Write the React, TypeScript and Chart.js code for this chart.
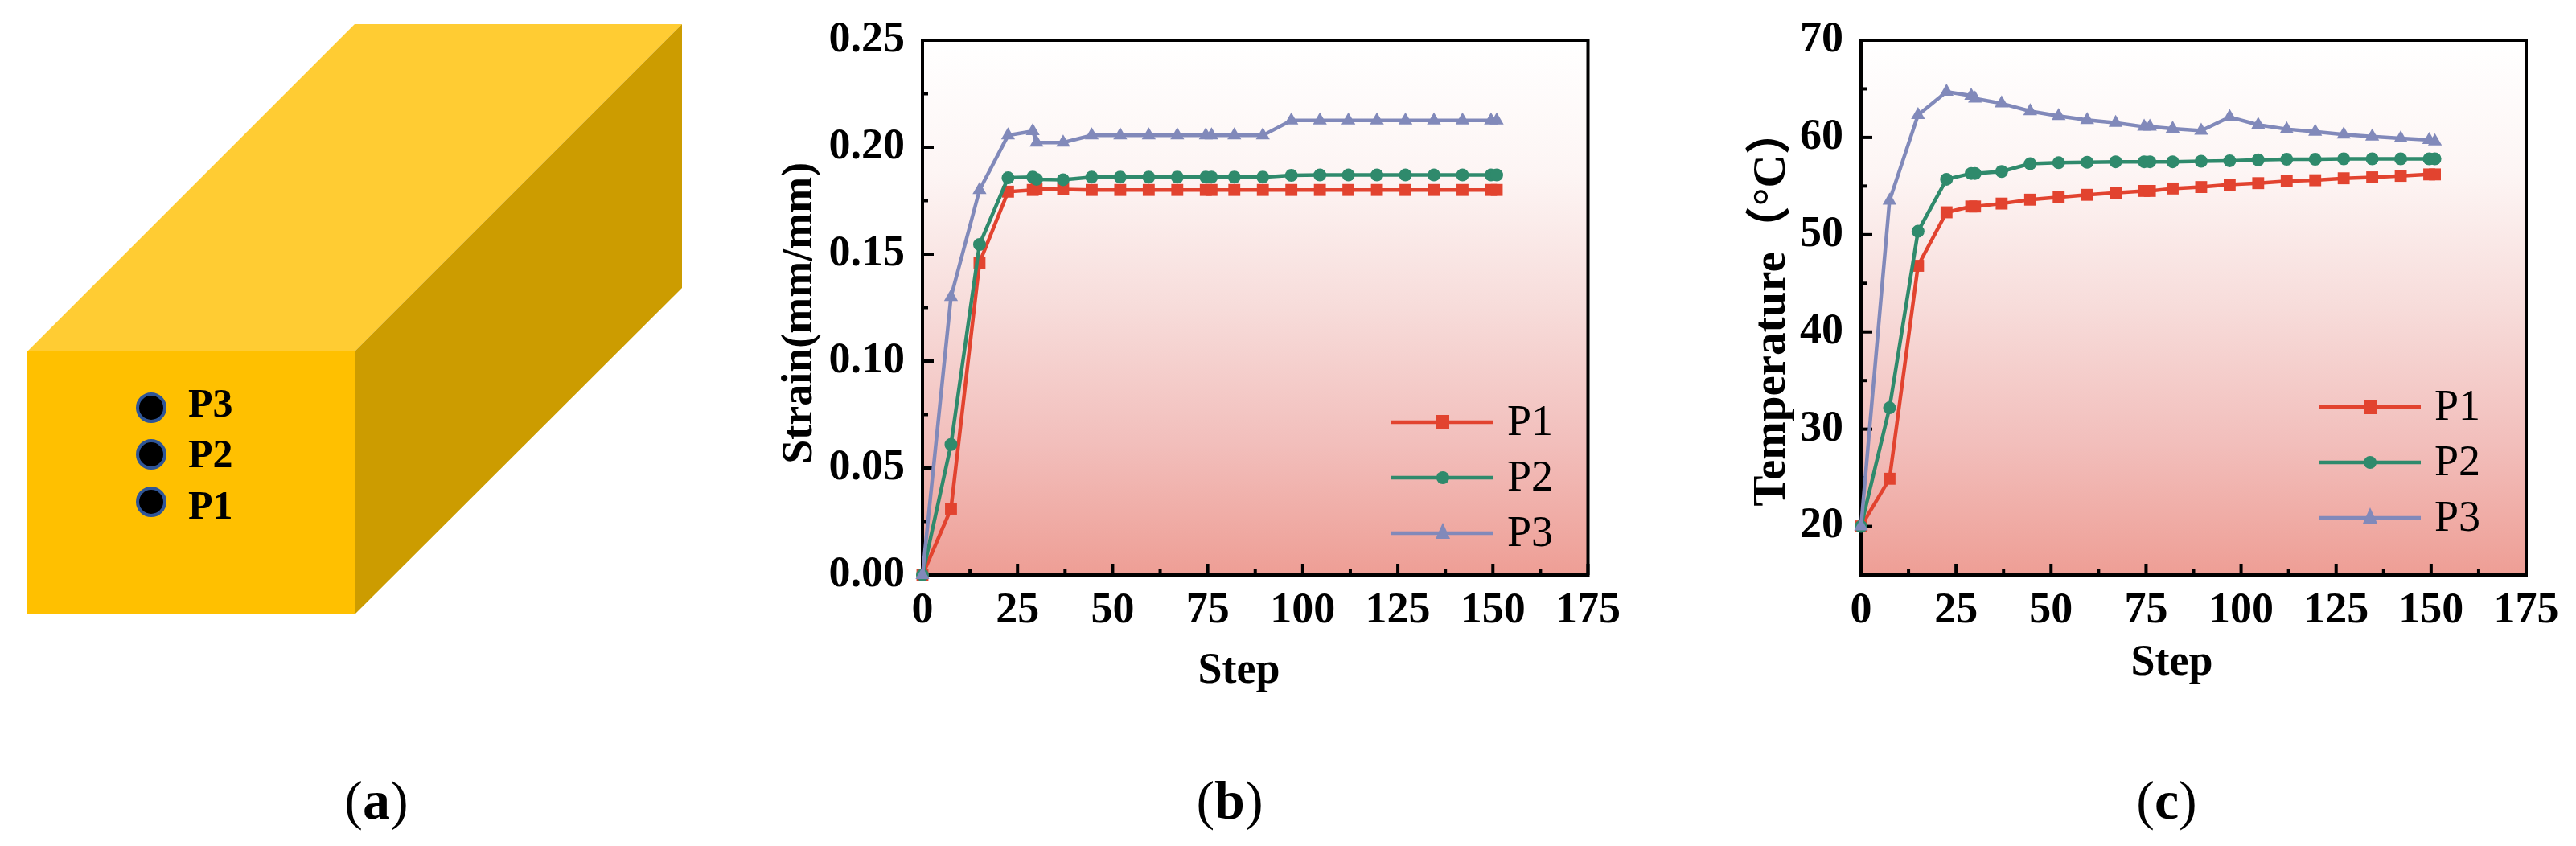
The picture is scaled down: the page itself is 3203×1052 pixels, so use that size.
import React, { useEffect, useRef } from "react";
import { Chart, registerables } from "chart.js";

Chart.register(...registerables);

const SERIF = '"Liberation Serif", "Noto Sans CJK SC", serif';

const steps = [0, 7.5, 15, 22.5, 29, 30, 37, 44.5, 52, 59.5, 67, 74.5, 76, 82, 89.5, 97, 104.5, 112, 119.5, 127, 134.5, 142, 149.5, 151];

const strainP1 = [0, 0.031, 0.146, 0.1792, 0.18, 0.1805, 0.1803, 0.18, 0.18, 0.18, 0.18, 0.18, 0.18, 0.18, 0.18, 0.18, 0.18, 0.18, 0.18, 0.18, 0.18, 0.18, 0.18, 0.18];
const strainP2 = [0, 0.061, 0.1545, 0.1857, 0.186, 0.185, 0.1848, 0.186, 0.186, 0.186, 0.186, 0.186, 0.186, 0.186, 0.186, 0.1868, 0.187, 0.187, 0.187, 0.187, 0.187, 0.187, 0.187, 0.187];
const strainP3 = [0, 0.13, 0.18, 0.2055, 0.2075, 0.2022, 0.2022, 0.2055, 0.2055, 0.2055, 0.2055, 0.2055, 0.2055, 0.2055, 0.2055, 0.2125, 0.2125, 0.2125, 0.2125, 0.2125, 0.2125, 0.2125, 0.2125, 0.2125];

const tempP1 = [20, 24.9, 46.8, 52.3, 52.9, 52.9, 53.2, 53.6, 53.85, 54.1, 54.3, 54.5, 54.5, 54.75, 54.9, 55.15, 55.3, 55.5, 55.6, 55.8, 55.9, 56.05, 56.2, 56.2];
const tempP2 = [20, 32.2, 50.35, 55.7, 56.3, 56.3, 56.5, 57.3, 57.4, 57.45, 57.5, 57.5, 57.5, 57.5, 57.55, 57.6, 57.7, 57.75, 57.75, 57.8, 57.8, 57.8, 57.8, 57.8];
const tempP3 = [20, 53.5, 62.3, 64.7, 64.3, 64.0, 63.5, 62.7, 62.2, 61.8, 61.5, 61.1, 61.1, 60.9, 60.7, 62.1, 61.3, 60.85, 60.6, 60.3, 60.1, 59.9, 59.75, 59.6];

const seriesNames = ["P1", "P2", "P3"];
const seriesColors = ["#e2432f", "#2f8a6c", "#8189ba"];
const seriesPoints = ["rect", "circle", "triangle"];
const seriesRadius = [10.5, 8, 10];

const xMajorTicks = [0, 25, 50, 75, 100, 125, 150, 175];
const xMinorTicks = [12.5, 37.5, 62.5, 87.5, 112.5, 137.5, 162.5];
const strainMajorTicks = [0, 0.05, 0.1, 0.15, 0.2, 0.25];
const strainMinorTicks = [0.025, 0.075, 0.125, 0.175, 0.225];
const tempMajorTicks = [20, 30, 40, 50, 60, 70];
const tempMinorTicks = [25, 35, 45, 55, 65];

const framePlugin = {
  id: "frame",
  beforeDraw(chart: any) {
    const { ctx, chartArea: a } = chart;
    const g = ctx.createLinearGradient(0, a.top, 0, a.bottom);
    g.addColorStop(0, "#ffffff");
    g.addColorStop(0.25, "#fdf5f4");
    g.addColorStop(0.5, "#f7dcda");
    g.addColorStop(0.75, "#f2bfbc");
    g.addColorStop(1, "#ee9e95");
    ctx.save();
    ctx.fillStyle = g;
    ctx.fillRect(a.left, a.top, a.right - a.left, a.bottom - a.top);
    ctx.restore();
  },
  beforeDatasetsDraw(chart: any, _args: any, opts: any) {
    const { ctx, chartArea: a, scales } = chart;
    ctx.save();
    ctx.strokeStyle = "#000";
    ctx.lineWidth = 4;
    const tick = (x1: number, y1: number, x2: number, y2: number) => {
      ctx.beginPath();
      ctx.moveTo(x1, y1);
      ctx.lineTo(x2, y2);
      ctx.stroke();
    };
    xMajorTicks.forEach((v) => { const p = scales.x.getPixelForValue(v); tick(p, a.bottom, p, a.bottom - 14); });
    xMinorTicks.forEach((v) => { const p = scales.x.getPixelForValue(v); tick(p, a.bottom, p, a.bottom - 7); });
    opts.major.forEach((v: number) => { const p = scales.y.getPixelForValue(v); tick(a.left, p, a.left + 14, p); });
    opts.minor.forEach((v: number) => { const p = scales.y.getPixelForValue(v); tick(a.left, p, a.left + 7, p); });
    ctx.strokeRect(a.left, a.top, a.right - a.left, a.bottom - a.top);
    ctx.restore();
  },
  afterDatasetsDraw(chart: any, _args: any, opts: any) {
    const { ctx } = chart;
    ctx.save();
    chart.data.datasets.forEach((d: any, i: number) => {
      const y = opts.legendY + i * 69;
      ctx.strokeStyle = d.borderColor;
      ctx.lineWidth = 4.5;
      ctx.beginPath();
      ctx.moveTo(opts.legendX, y);
      ctx.lineTo(opts.legendX + 127, y);
      ctx.stroke();
      ctx.fillStyle = d.borderColor;
      const cx = opts.legendX + 64;
      if (d.pointStyle === "rect") ctx.fillRect(cx - 8, y - 9, 16, 18);
      if (d.pointStyle === "circle") { ctx.beginPath(); ctx.arc(cx, y, 8, 0, Math.PI * 2); ctx.fill(); }
      if (d.pointStyle === "triangle") {
        ctx.beginPath();
        ctx.moveTo(cx, y - 13);
        ctx.lineTo(cx + 9, y + 7);
        ctx.lineTo(cx - 9, y + 7);
        ctx.closePath();
        ctx.fill();
      }
      ctx.fillStyle = "#000";
      ctx.font = `54px ${SERIF}`;
      ctx.textBaseline = "middle";
      ctx.textAlign = "left";
      ctx.fillText(d.label, opts.legendX + 144, y + 2);
    });
    ctx.restore();
  },
};

type PanelProps = {
  left: number; width: number; plotLeft: number; plotRight: number;
  yMin: number; yMax: number; series: number[][]; major: number[]; minor: number[];
  digits: number; yTitle: string; yTitleSize: number; xTitle: string; xTitleCenter: number;
  yTitlePad: number; legendX: number; legendY: number;
};

const PLOT_TOP = 50;
const PLOT_BOTTOM = 715;
const CANVAS_H = 1052;

function Panel(p: PanelProps) {
  const ref = useRef<HTMLCanvasElement>(null);
  useEffect(() => {
    const labelFont = { family: SERIF, size: 54, weight: "bold" as const };
    const chart = new Chart(ref.current as HTMLCanvasElement, {
      type: "line",
      data: {
        datasets: p.series.map((vals, i) => ({
          label: seriesNames[i],
          data: vals.map((y, j) => ({ x: steps[j], y })),
          order: p.series.length - i,
          borderColor: seriesColors[i],
          backgroundColor: seriesColors[i],
          borderWidth: 4.5,
          pointStyle: seriesPoints[i],
          pointRadius: seriesRadius[i],
          pointBorderWidth: 0,
          tension: 0,
          clip: false,
        })),
      },
      options: {
        animation: false,
        responsive: false,
        layout: { padding: { top: PLOT_TOP, right: p.width - (p.plotRight - p.left), bottom: 0, left: 0 } },
        plugins: {
          legend: { display: false },
          tooltip: { enabled: false },
          frame: { major: p.major, minor: p.minor, legendX: p.legendX - p.left, legendY: p.legendY },
        },
        scales: {
          x: {
            type: "linear", min: 0, max: 175,
            grid: { display: false }, border: { display: false },
            afterBuildTicks: (s: any) => { s.ticks = xMajorTicks.map((value) => ({ value })); },
            afterFit: (s: any) => { s.height = CANVAS_H - PLOT_BOTTOM; s.paddingLeft = 0; s.paddingRight = 0; },
            ticks: { font: labelFont, color: "#000", padding: 5, maxRotation: 0, autoSkip: false, callback: (v: any) => String(v) },
            title: {
              display: true, text: p.xTitle, color: "#000", font: labelFont,
              padding: { top: 0, bottom: CANVAS_H - p.xTitleCenter - 32 },
            },
          },
          y: {
            type: "linear", min: p.yMin, max: p.yMax,
            grid: { display: false }, border: { display: false },
            afterBuildTicks: (s: any) => { s.ticks = p.major.map((value) => ({ value })); },
            afterFit: (s: any) => { s.width = p.plotLeft - p.left; s.paddingTop = 0; s.paddingBottom = 0; },
            ticks: { font: labelFont, color: "#000", padding: 14, autoSkip: false, callback: (v: any) => Number(v).toFixed(p.digits) },
            title: {
              display: true, text: p.yTitle, color: "#000",
              font: { ...labelFont, size: p.yTitleSize },
              padding: { top: p.yTitlePad, bottom: 0 },
            },
          },
        },
      } as any,
      plugins: [framePlugin as any],
    });
    return () => chart.destroy();
  }, []);
  return (
    <canvas
      ref={ref}
      width={p.width}
      height={CANVAS_H}
      style={{ position: "absolute", left: p.left, top: 0, width: p.width, height: CANVAS_H }}
    />
  );
}

const boxLabels = [
  { name: "P3", dotY: 507, textY: 518 },
  { name: "P2", dotY: 565, textY: 581 },
  { name: "P1", dotY: 624, textY: 645 },
];

function Box() {
  return (
    <svg width={900} height={800} style={{ position: "absolute", left: 0, top: 0 }}>
      <polygon points="34,437 441,437 848,30 441,30" fill="#ffcc33" />
      <polygon points="441,437 848,30 848,358 441,764" fill="#cc9c00" />
      <rect x={34} y={437} width={407} height={327} fill="#ffc000" />
      {boxLabels.map((b) => (
        <g key={b.name}>
          <circle cx={188} cy={b.dotY} r={17} fill="#000" stroke="#2f5597" strokeWidth={4} />
          <text x={234} y={b.textY} fontFamily={SERIF} fontWeight="bold" fontSize={50} fill="#000">{b.name}</text>
        </g>
      ))}
    </svg>
  );
}

const captions = [
  { letter: "a", x: 468 },
  { letter: "b", x: 1529 },
  { letter: "c", x: 2694 },
];

export default function App() {
  useEffect(() => {
    document.body.style.margin = "0";
    document.body.style.overflow = "hidden";
  }, []);
  return (
    <div style={{ position: "relative", width: 3203, height: 1052, background: "#fff", overflow: "hidden" }}>
      <Box />
      <Panel
        left={950} width={1110} plotLeft={1147} plotRight={1974.5}
        yMin={0} yMax={0.25} series={[strainP1, strainP2, strainP3]}
        major={strainMajorTicks} minor={strainMinorTicks} digits={2}
        yTitle={"Strain(mm/mm)\u00A0"} yTitleSize={54} xTitle={"Step\u00A0\u00A0\u00A0"} xTitleCenter={835}
        yTitlePad={13} legendX={1730} legendY={525}
      />
      <Panel
        left={2150} width={1053} plotLeft={2314} plotRight={3141}
        yMin={15} yMax={70} series={[tempP1, tempP2, tempP3]}
        major={tempMajorTicks} minor={tempMinorTicks} digits={0}
        yTitle={"Temperature\uFF08\u00B0C\uFF09"} yTitleSize={57} xTitle={"Step\u00A0\u00A0\u00A0\u00A0"} xTitleCenter={825}
        yTitlePad={20} legendX={2883} legendY={506}
      />
      {captions.map((c) => (
        <div
          key={c.letter}
          style={{ position: "absolute", left: c.x - 100, width: 200, top: 955, textAlign: "center", fontFamily: SERIF, fontSize: 68, lineHeight: "80px", color: "#000" }}
        >
          (<b>{c.letter}</b>)
        </div>
      ))}
    </div>
  );
}
